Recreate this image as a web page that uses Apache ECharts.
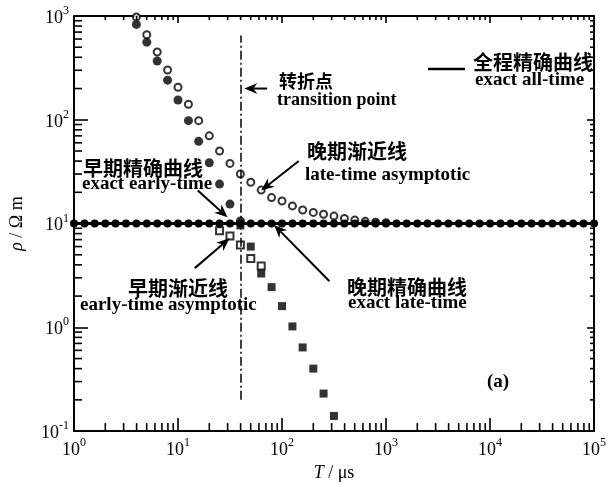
<!DOCTYPE html>
<html lang="zh">
<head>
<meta charset="UTF-8">
<title>视电阻率曲线</title>
<script src="https://cdn.jsdelivr.net/npm/echarts@6/dist/echarts.min.js"></script>
<style>html,body{margin:0;padding:0;background:#fff;}</style>
</head>
<body>
<div id="chartmain" style="width:609px;height:487px;"></div>
<script type="text/javascript">

    // 时间 T (μs)，每十倍程 10 个点
    var tAll = [1, 1.26, 1.58, 2, 2.51, 3.16, 3.98, 5.01, 6.31, 7.94,
        10, 12.6, 15.8, 20, 25.1, 31.6, 39.8, 50.1, 63.1, 79.4,
        100, 126, 158, 200, 251, 316, 398, 501, 631, 794,
        1000, 1260, 1580, 2000, 2510, 3160, 3980, 5010, 6310, 7940,
        10000, 12600, 15800, 20000, 25100, 31600, 39800, 50100, 63100, 79400, 100000];
    // 全程精确曲线
    var allTime = [10, 10, 10, 10, 10, 10, 10, 10, 10, 10,
        10, 10, 10, 10, 10, 10, 10, 10, 10, 10,
        10, 10, 10, 10, 10, 10, 10, 10, 10, 10,
        10, 10, 10, 10, 10, 10, 10, 10, 10, 10,
        10, 10, 10, 10, 10, 10, 10, 10, 10, 10, 10];

    // 早期精确曲线 (实心圆)
    var tEarlyExact = [3.98, 5.01, 6.31, 7.94, 10, 12.6, 15.8, 20, 25.1, 31.6, 39.8];
    var earlyExact = [830, 560, 368, 241, 155, 98, 62, 38.5, 24, 15.4, 10.6];

    // 晚期渐近线 (空心圆)
    var tLateAsym = [3.98, 5.01, 6.31, 7.94, 10, 12.6, 15.8, 20, 25.1, 31.6, 39.8, 50.1, 63.1,
        79.4, 100, 126, 158, 200, 251, 316, 398, 501, 631, 794, 1000];
    var lateAsym = [980, 660, 450, 302, 206, 141, 98, 70, 50, 38, 30, 25, 21,
        17.8, 16.5, 14.8, 13.5, 12.8, 12.3, 11.8, 11.2, 10.8, 10.5, 10.3, 10.2];

    // 早期渐近线 (空心方块)
    var tEarlyAsym = [25.1, 31.6, 39.8, 50.1, 63.1];
    var earlyAsym = [8.5, 7.6, 6.2, 4.6, 3.9];

    // 晚期精确曲线 (实心方块)
    var tLateExact = [39.8, 50.1, 63.1, 79.4, 100, 126, 158, 200, 251, 316];
    var lateExact = [9.6, 6.0, 3.3, 2.44, 1.6, 1.02, 0.64, 0.40, 0.23, 0.14];

    // 转折点
    var tTransition = 40;
    var transitionSpan = [0.2, 650];

    // 标注箭头: 起点 T, 起点 ρ, 终点 T, 终点 ρ
    var arrows = [
        [72, 200, 43.5, 200],     // 转折点
        [15.5, 20.8, 29.9, 11.5], // 早期精确曲线
        [145, 40, 63, 20.8],      // 晚期渐近线
        [14.5, 3.72, 31.3, 7.2],  // 早期渐近线
        [286, 2.78, 84, 9.7]      // 晚期精确曲线
    ];

    var xRange = [1, 100000];
    var yRange = [0.1, 1000];

    function zip(xs, ys) {
        var out = [];
        for (var i = 0; i < xs.length; i++) out.push([xs[i], ys[i]]);
        return out;
    }

    // 对数轴的次刻度 (2..9 × 10^k)
    function minorTicks(lo, hi) {
        var out = [];
        for (var d = lo; d < hi; d *= 10) {
            for (var m = 2; m <= 9; m++) out.push(d * m);
        }
        return out;
    }
    var xMinor = minorTicks(xRange[0], xRange[1]).map(function (v) { return [v, 1]; });
    var yMinor = minorTicks(yRange[0], yRange[1]).map(function (v) { return [10, v]; });

    var serif = 'Liberation Serif';
    var cjk = 'Noto Sans CJK SC';

    function powLabel(v) {
        return '{b|10}{s|' + Math.round(Math.log10(v)) + '}';
    }
    var powRich = {
        b: { fontFamily: serif, fontSize: 18, color: '#000', verticalAlign: 'bottom', lineHeight: 22 },
        s: { fontFamily: serif, fontSize: 12, color: '#000', verticalAlign: 'top', lineHeight: 22 }
    };

    function tickLine(x1, y1, x2, y2) {
        return { type: 'line', shape: { x1: x1, y1: y1, x2: x2, y2: y2 }, style: { stroke: '#000', lineWidth: 1.6 } };
    }

    function txt(x, y, s, font, size) {
        return {
            type: 'text', x: x, y: y, silent: true,
            style: { text: s, fontFamily: font, fontSize: size, fontWeight: 'bold', fill: '#000', verticalAlign: 'middle', align: 'left' }
        };
    }

    var axisName = {
        fontFamily: serif, fontSize: 18, color: '#000',
        rich: { i: { fontFamily: serif, fontSize: 18, fontStyle: 'italic', color: '#000' } }
    };

    var option = {
        animation: false,
        grid: { left: 73, top: 16, right: 11, bottom: 50 },
        xAxis: [{
            type: 'log', logBase: 10, min: xRange[0], max: xRange[1],
            name: '{i|T} / μs', nameLocation: 'middle', nameGap: 30, nameTextStyle: axisName,
            axisLine: { lineStyle: { color: '#000', width: 2 } },
            axisTick: { show: true, inside: true, length: 13, lineStyle: { color: '#000', width: 1.6 } },
            axisLabel: { formatter: powLabel, rich: powRich, margin: 6 },
            splitLine: { show: false }
        }, {
            type: 'log', logBase: 10, min: xRange[0], max: xRange[1], position: 'top',
            axisLine: { lineStyle: { color: '#000', width: 2 } },
            axisTick: { show: true, inside: true, length: 7, lineStyle: { color: '#000', width: 1.6 } },
            axisLabel: { show: false },
            splitLine: { show: false }
        }],
        yAxis: [{
            type: 'log', logBase: 10, min: yRange[0], max: yRange[1],
            name: '{i|ρ} / Ω m', nameLocation: 'middle', nameGap: 48, nameRotate: 90, nameTextStyle: axisName,
            axisLine: { lineStyle: { color: '#000', width: 2 } },
            axisTick: { show: true, inside: true, length: 14, lineStyle: { color: '#000', width: 1.6 } },
            axisLabel: { formatter: powLabel, rich: powRich, margin: 5 },
            splitLine: { show: false }
        }, {
            type: 'log', logBase: 10, min: yRange[0], max: yRange[1], position: 'right',
            axisLine: { lineStyle: { color: '#000', width: 2 } },
            axisTick: { show: true, inside: true, length: 7, lineStyle: { color: '#000', width: 1.6 } },
            axisLabel: { show: false },
            splitLine: { show: false }
        }],
        graphic: [
            txt(279, 81, '转折点', cjk, 18),
            txt(277, 100, 'transition point', serif, 18),
            { type: 'line', silent: true, shape: { x1: 428, y1: 69, x2: 465, y2: 69 }, style: { stroke: '#000', lineWidth: 2.5 } },
            txt(473, 62, '全程精确曲线', cjk, 20),
            txt(475, 80, 'exact all-time', serif, 19),
            txt(83, 168, '早期精确曲线', cjk, 20),
            txt(82, 184, 'exact early-time', serif, 19),
            txt(307, 151, '晚期渐近线', cjk, 20),
            txt(305, 175, 'late-time asymptotic', serif, 19),
            txt(128, 288, '早期渐近线', cjk, 20),
            txt(80, 305, 'early-time asymptotic', serif, 19),
            txt(347, 287, '晚期精确曲线', cjk, 20),
            txt(348, 303, 'exact late-time', serif, 19),
            txt(487, 382, '(a)', serif, 19)
        ],
        series: [
            {
                name: '次刻度x', type: 'custom', clip: false, z: 10,
                data: xMinor,
                renderItem: function (params, api) {
                    var cs = params.coordSys;
                    var x = api.coord([api.value(0), 1])[0];
                    var b = cs.y + cs.height, t = cs.y;
                    return { type: 'group', children: [tickLine(x, b, x, b - 8), tickLine(x, t, x, t + 4)] };
                }
            },
            {
                name: '次刻度y', type: 'custom', clip: false, z: 10,
                data: yMinor,
                renderItem: function (params, api) {
                    var cs = params.coordSys;
                    var y = api.coord([10, api.value(1)])[1];
                    var l = cs.x, r = cs.x + cs.width;
                    return { type: 'group', children: [tickLine(l, y, l + 8, y), tickLine(r, y, r - 4, y)] };
                }
            },
            {
                name: '全程精确曲线', type: 'line', data: zip(tAll, allTime),
                symbol: 'circle', symbolSize: 8, z: 5,
                lineStyle: { color: '#000', width: 3 },
                itemStyle: { color: '#000' },
                markLine: {
                    silent: true, symbol: ['none', 'none'], label: { show: false },
                    lineStyle: { color: '#000', width: 1.5, type: [9, 3, 2, 3] },
                    data: [[{ coord: [tTransition, transitionSpan[0]] }, { coord: [tTransition, transitionSpan[1]] }]]
                }
            },
            {
                name: '早期精确曲线', type: 'scatter', data: zip(tEarlyExact, earlyExact),
                symbol: 'circle', symbolSize: 9, z: 4,
                itemStyle: { color: '#000' }
            },
            {
                name: '晚期渐近线', type: 'scatter', data: zip(tLateAsym, lateAsym),
                symbol: 'circle', symbolSize: 7, z: 4,
                itemStyle: { color: '#fff', borderColor: '#000', borderWidth: 2 }
            },
            {
                name: '早期渐近线', type: 'scatter', data: zip(tEarlyAsym, earlyAsym),
                symbol: 'rect', symbolSize: 7, z: 4,
                itemStyle: { color: '#fff', borderColor: '#000', borderWidth: 2 }
            },
            {
                name: '晚期精确曲线', type: 'scatter', data: zip(tLateExact, lateExact),
                symbol: 'rect', symbolSize: 8, z: 4,
                itemStyle: { color: '#000' }
            },
            {
                name: '标注箭头', type: 'custom', silent: true, clip: false, z: 6,
                data: arrows,
                renderItem: function (params, api) {
                    var p1 = api.coord([api.value(0), api.value(1)]);
                    var p2 = api.coord([api.value(2), api.value(3)]);
                    var dx = p2[0] - p1[0], dy = p2[1] - p1[1];
                    var L = Math.sqrt(dx * dx + dy * dy);
                    var ux = dx / L, uy = dy / L, nx = -uy, ny = ux;
                    var hl = 13, hw = 5.5, notch = 9;
                    var back = [p2[0] - ux * hl, p2[1] - uy * hl];
                    var mid = [p2[0] - ux * notch, p2[1] - uy * notch];
                    return {
                        type: 'group', children: [
                            { type: 'line', shape: { x1: p1[0], y1: p1[1], x2: mid[0], y2: mid[1] }, style: { stroke: '#000', lineWidth: 2 } },
                            {
                                type: 'polygon', shape: {
                                    points: [p2, [back[0] + nx * hw, back[1] + ny * hw], mid, [back[0] - nx * hw, back[1] - ny * hw]]
                                }, style: { fill: '#000' }
                            }
                        ]
                    };
                }
            }
        ]
    };

    var myChart = echarts.init(document.getElementById('chartmain'));
    myChart.setOption(option);
</script>
</body>
</html>
